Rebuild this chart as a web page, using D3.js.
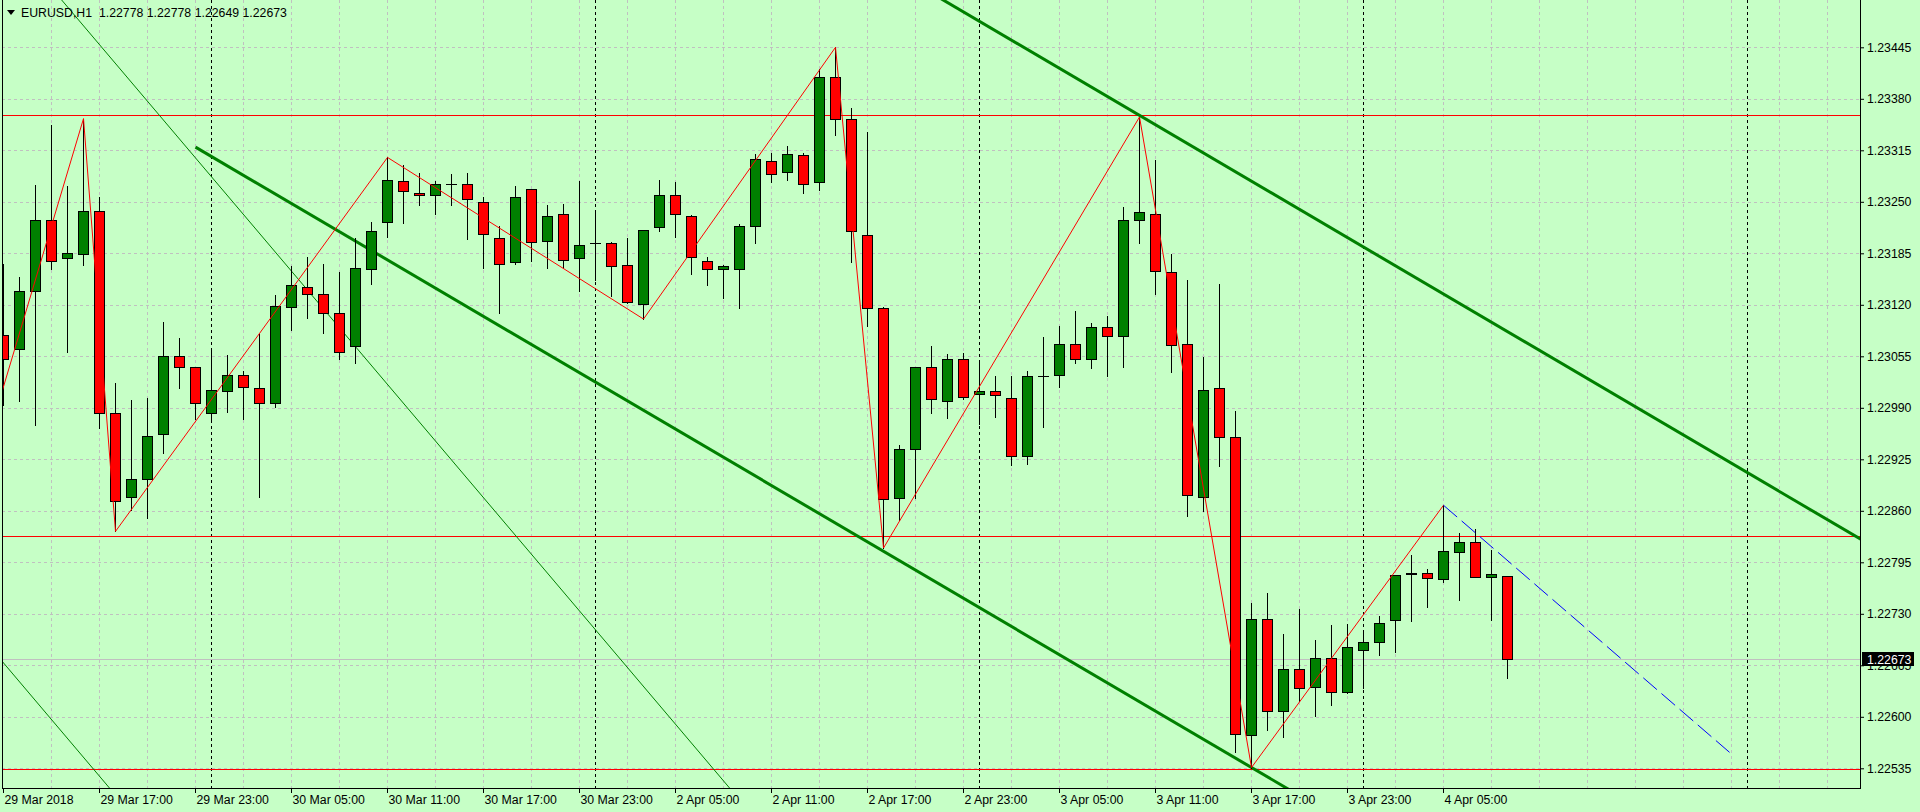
<!DOCTYPE html>
<html>
<head>
<meta charset="utf-8">
<script src="https://cdn.jsdelivr.net/npm/d3@7"></script>
<style>
  html, body { margin: 0; padding: 0; background: #c6ffc6; overflow: hidden; }
  svg { display: block; }
</style>
</head>
<body>
<svg id="chart" width="1920" height="812"></svg>
<script>
// EURUSD H1 candles, 29 Mar 11:00 .. 4 Apr 09:00 (one entry per bar)
const barOpen = [
  1.23082, 1.23064, 1.23137, 1.23227, 1.23179, 1.23184, 1.23239, 1.22983, 1.22877, 1.22900,
  1.22957, 1.23056, 1.23041, 1.22983, 1.23011, 1.23032, 1.23015, 1.22996, 1.23117, 1.23142,
  1.23133, 1.23110, 1.23068, 1.23165, 1.23224, 1.23276, 1.23261, 1.23259, 1.23272, 1.23272,
  1.23250, 1.23204, 1.23174, 1.23266, 1.23201, 1.23235, 1.23179, 1.23198, 1.23198, 1.23170,
  1.23121, 1.23218, 1.23259, 1.23232, 1.23175, 1.23165, 1.23165, 1.23220, 1.23302, 1.23287,
  1.23309, 1.23275, 1.23408, 1.23354, 1.23208, 1.23116, 1.22876, 1.22938, 1.23041, 1.22999,
  1.23052, 1.23008, 1.23011, 1.23003, 1.22929, 1.23030, 1.23031, 1.23071, 1.23052, 1.23092,
  1.23081, 1.23227, 1.23235, 1.23162, 1.23070, 1.22878, 1.23015, 1.22953, 1.22577, 1.22724,
  1.22607, 1.22660, 1.22637, 1.22674, 1.22631, 1.22684, 1.22695, 1.22722, 1.22780, 1.22782,
  1.22774, 1.22808, 1.22820, 1.22777, 1.22778
];
const barHigh = [
  1.23172, 1.23155, 1.23271, 1.23347, 1.23270, 1.23355, 1.23256, 1.23021, 1.23000, 1.23002,
  1.23098, 1.23078, 1.23042, 1.23063, 1.23057, 1.23036, 1.23083, 1.23132, 1.23169, 1.23180,
  1.23171, 1.23161, 1.23204, 1.23224, 1.23306, 1.23296, 1.23286, 1.23276, 1.23285, 1.23286,
  1.23256, 1.23219, 1.23270, 1.23266, 1.23246, 1.23247, 1.23276, 1.23239, 1.23199, 1.23204,
  1.23215, 1.23277, 1.23275, 1.23233, 1.23180, 1.23170, 1.23222, 1.23310, 1.23312, 1.23320,
  1.23311, 1.23417, 1.23445, 1.23369, 1.23338, 1.23117, 1.22943, 1.23042, 1.23068, 1.23058,
  1.23059, 1.23049, 1.23030, 1.23030, 1.23037, 1.23079, 1.23093, 1.23112, 1.23097, 1.23106,
  1.23244, 1.23357, 1.23303, 1.23184, 1.23151, 1.23054, 1.23146, 1.22986, 1.22744, 1.22756,
  1.22705, 1.22736, 1.22697, 1.22716, 1.22717, 1.22707, 1.22727, 1.22779, 1.22804, 1.22787,
  1.22867, 1.22832, 1.22837, 1.22811, 1.22778
];
const barLow = [
  1.22993, 1.22998, 1.22968, 1.23165, 1.23061, 1.23170, 1.22965, 1.22834, 1.22861, 1.22851,
  1.22933, 1.23015, 1.22976, 1.22976, 1.22985, 1.22976, 1.22878, 1.22991, 1.23088, 1.23103,
  1.23084, 1.23051, 1.23046, 1.23146, 1.23206, 1.23223, 1.23246, 1.23235, 1.23246, 1.23203,
  1.23166, 1.23110, 1.23171, 1.23175, 1.23166, 1.23166, 1.23138, 1.23151, 1.23131, 1.23122,
  1.23102, 1.23213, 1.23205, 1.23159, 1.23145, 1.23129, 1.23116, 1.23198, 1.23275, 1.23278,
  1.23261, 1.23265, 1.23334, 1.23174, 1.23093, 1.22813, 1.22849, 1.22876, 1.22983, 1.22977,
  1.23001, 1.22970, 1.22978, 1.22918, 1.22919, 1.22966, 1.23016, 1.23046, 1.23040, 1.23030,
  1.23041, 1.23198, 1.23134, 1.23035, 1.22853, 1.22860, 1.22916, 1.22556, 1.22536, 1.22583,
  1.22574, 1.22620, 1.22601, 1.22615, 1.22630, 1.22636, 1.22678, 1.22682, 1.22721, 1.22738,
  1.22770, 1.22747, 1.22777, 1.22722, 1.22649
];
const barClose = [
  1.23052, 1.23137, 1.23227, 1.23175, 1.23185, 1.23238, 1.22983, 1.22872, 1.22900, 1.22955,
  1.23055, 1.23041, 1.22996, 1.23013, 1.23032, 1.23016, 1.22996, 1.23118, 1.23145, 1.23134,
  1.23110, 1.23060, 1.23166, 1.23213, 1.23277, 1.23264, 1.23258, 1.23272, 1.23272, 1.23253,
  1.23209, 1.23172, 1.23256, 1.23199, 1.23232, 1.23177, 1.23195, 1.23198, 1.23169, 1.23123,
  1.23214, 1.23259, 1.23235, 1.23180, 1.23165, 1.23169, 1.23220, 1.23304, 1.23285, 1.23310,
  1.23273, 1.23408, 1.23354, 1.23213, 1.23116, 1.22875, 1.22938, 1.23041, 1.23001, 1.23052,
  1.23004, 1.23011, 1.23006, 1.22929, 1.23030, 1.23030, 1.23070, 1.23051, 1.23092, 1.23080,
  1.23227, 1.23237, 1.23163, 1.23069, 1.22880, 1.23013, 1.22953, 1.22578, 1.22723, 1.22607,
  1.22660, 1.22636, 1.22674, 1.22631, 1.22688, 1.22695, 1.22718, 1.22779, 1.22782, 1.22775,
  1.22809, 1.22820, 1.22777, 1.22780, 1.22673
];

// time axis labels (bar index -> text), every 6 bars
const timeTickBars = [0, 6, 12, 18, 24, 30, 36, 42, 48, 54, 60, 66, 72, 78, 84, 90];
const timeTickLabels = [
  "29 Mar 2018", "29 Mar 17:00", "29 Mar 23:00", "30 Mar 05:00", "30 Mar 11:00",
  "30 Mar 17:00", "30 Mar 23:00", "2 Apr 05:00", "2 Apr 11:00", "2 Apr 17:00",
  "2 Apr 23:00", "3 Apr 05:00", "3 Apr 11:00", "3 Apr 17:00", "3 Apr 23:00", "4 Apr 05:00"
];
// first bar of each trading day (period separators)
const dayStartBars = [13, 37, 61, 85, 109];

const priceTicks = [
  1.22535, 1.22600, 1.22665, 1.22730, 1.22795, 1.22860, 1.22925, 1.22990,
  1.23055, 1.23120, 1.23185, 1.23250, 1.23315, 1.23380, 1.23445
];

// zigzag swing points [bar, price]
const zigzag = [
  [-1, 1.22949], [5, 1.23355], [7, 1.22834], [24, 1.23306], [40, 1.23102],
  [52, 1.23445], [55, 1.22813], [71, 1.23357], [78, 1.22536], [90, 1.22867]
];
const forecast = [[90, 1.22867], [108, 1.22553]];

// horizontal levels
const levels = [1.23359, 1.22828, 1.22534];

// trend lines: two anchor points [bar, price]
const channelLow = [[12, 1.23319], [78, 1.22536]];
const channelHigh = [[40, 1.23727], [116, 1.22825]];
const thinLineA = [[4, 1.23496], [44, 1.22543]];
const thinLineB = [[0, 1.22668], [6, 1.22525]];

const bid = 1.22673;
const header = "EURUSD,H1  1.22778 1.22778 1.22649 1.22673";

// ---------------------------------------------------------------
const svg = d3.select("#chart");
const W = 1920, H = 812;
const plot = { left: 2, right: 1860, top: 0, bottom: 788 };

const x = d3.scaleLinear().domain([0, 94]).range([3, 3 + 94 * 16]);
const y = d3.scaleLinear().domain([1.22535, 1.23445]).range([768.3, 47.3]);

const FONT = "'Liberation Sans', Arial, sans-serif";
const bgColor = "#c6ffc6";
const gridColor = "#c0c0c0";
const bull = "#008000", bear = "#ff0000";

svg.append("rect").attr("width", W).attr("height", H).attr("fill", bgColor);

svg.append("defs").append("clipPath").attr("id", "plotClip")
  .append("rect")
  .attr("x", plot.left + 1).attr("y", plot.top)
  .attr("width", plot.right - plot.left - 1)
  .attr("height", plot.bottom - plot.top);

const g = svg.append("g").attr("clip-path", "url(#plotClip)");

// Grid
const gridBars = d3.range(3, 116, 3);
g.append("g").selectAll("line")
  .data(gridBars)
  .join("line")
  .attr("x1", d => x(d) + 0.5).attr("x2", d => x(d) + 0.5)
  .attr("y1", plot.top).attr("y2", plot.bottom)
  .attr("stroke", gridColor).attr("stroke-dasharray", "3,3");

g.append("g").selectAll("line")
  .data(priceTicks)
  .join("line")
  .attr("x1", plot.left).attr("x2", plot.right)
  .attr("y1", d => Math.round(y(d)) + 0.5).attr("y2", d => Math.round(y(d)) + 0.5)
  .attr("stroke", gridColor).attr("stroke-dasharray", "3,3");

// Period separators
g.append("g").selectAll("line")
  .data(dayStartBars)
  .join("line")
  .attr("x1", d => x(d) + 0.5).attr("x2", d => x(d) + 0.5)
  .attr("y1", plot.top).attr("y2", plot.bottom)
  .attr("stroke", "#000").attr("stroke-dasharray", "3,3");

// Bid line
g.append("line")
  .attr("x1", plot.left).attr("x2", plot.right)
  .attr("y1", Math.round(y(bid)) + 0.5).attr("y2", Math.round(y(bid)) + 0.5)
  .attr("stroke", gridColor);

// Horizontal levels
g.append("g").selectAll("line")
  .data(levels)
  .join("line")
  .attr("x1", plot.left).attr("x2", plot.right)
  .attr("y1", d => Math.round(y(d)) + 0.5).attr("y2", d => Math.round(y(d)) + 0.5)
  .attr("stroke", "#ff0000");

// Trend lines, extended through the whole plot (clip does the rest)
function extend(pts, fromBar, toBar) {
  const [[b1, p1], [b2, p2]] = pts;
  const slope = (p2 - p1) / (b2 - b1);
  return [fromBar, toBar].map(b => [x(b) + 0.5, y(p1 + slope * (b - b1))]);
}
const lineGen = d3.line();

g.append("path")
  .attr("d", lineGen(extend(channelLow, channelLow[0][0], 130)))
  .attr("fill", "none").attr("stroke", "#008000").attr("stroke-width", 3);
g.append("path")
  .attr("d", lineGen(extend(channelHigh, 0, 130)))
  .attr("fill", "none").attr("stroke", "#008000").attr("stroke-width", 3);
[thinLineA, thinLineB].forEach(pts => {
  g.append("path")
    .attr("d", lineGen(extend(pts, -10, 60)))
    .attr("fill", "none").attr("stroke", "#008000").attr("stroke-width", 1);
});

// Candles
const bars = d3.range(barOpen.length).map(i => ({
  i, o: barOpen[i], h: barHigh[i], l: barLow[i], c: barClose[i]
}));

const candles = g.append("g").attr("shape-rendering", "crispEdges");

candles.selectAll("line.wick")
  .data(bars)
  .join("line")
  .attr("class", "wick")
  .attr("x1", d => x(d.i) + 0.5).attr("x2", d => x(d.i) + 0.5)
  .attr("y1", d => Math.round(y(d.h))).attr("y2", d => Math.round(y(d.l)) + 1)
  .attr("stroke", "#000");

const bodyTop = d => Math.round(y(Math.max(d.o, d.c))) + 0.5;
const bodyBot = d => Math.round(y(Math.min(d.o, d.c))) + 0.5;

candles.selectAll("rect.body")
  .data(bars.filter(d => bodyBot(d) - bodyTop(d) >= 1))
  .join("rect")
  .attr("class", "body")
  .attr("x", d => x(d.i) - 4.5)
  .attr("width", 10)
  .attr("y", bodyTop)
  .attr("height", d => bodyBot(d) - bodyTop(d))
  .attr("fill", d => d.c >= d.o ? bull : bear)
  .attr("stroke", "#000");

candles.selectAll("line.doji")
  .data(bars.filter(d => bodyBot(d) - bodyTop(d) < 1))
  .join("line")
  .attr("class", "doji")
  .attr("x1", d => x(d.i) - 5).attr("x2", d => x(d.i) + 6)
  .attr("y1", bodyTop).attr("y2", bodyTop)
  .attr("stroke", "#000");

// Zigzag and forecast line
g.append("path")
  .attr("d", d3.line().x(d => x(d[0]) + 0.5).y(d => y(d[1]))(zigzag))
  .attr("fill", "none").attr("stroke", "#ff0000").attr("stroke-width", 1);

g.append("path")
  .attr("d", d3.line().x(d => x(d[0]) + 0.5).y(d => y(d[1]))(forecast))
  .attr("fill", "none").attr("stroke", "#0000ff").attr("stroke-width", 1)
  .attr("stroke-dasharray", "18,6");

// Frame
const frame = svg.append("g").attr("stroke", "#000").attr("shape-rendering", "crispEdges");
frame.append("line").attr("x1", plot.left + 0.5).attr("x2", plot.left + 0.5)
  .attr("y1", plot.top).attr("y2", plot.bottom + 1);
frame.append("line").attr("x1", plot.right + 0.5).attr("x2", plot.right + 0.5)
  .attr("y1", plot.top).attr("y2", plot.bottom + 1);
frame.append("line").attr("x1", plot.left).attr("x2", plot.right + 1)
  .attr("y1", plot.bottom + 0.5).attr("y2", plot.bottom + 0.5);

// Axes
const yAxis = svg.append("g")
  .attr("transform", `translate(${plot.right},0)`)
  .call(d3.axisRight(y).tickValues(priceTicks).tickSize(4).tickPadding(3)
    .tickFormat(d3.format(".5f")));
yAxis.select(".domain").remove();

const xAxis = svg.append("g")
  .attr("transform", `translate(0,${plot.bottom})`)
  .call(d3.axisBottom(x).tickValues(timeTickBars).tickSize(5).tickPadding(2)
    .tickFormat((d, i) => timeTickLabels[i]));
xAxis.select(".domain").remove();
xAxis.selectAll("text").attr("text-anchor", "start").attr("x", 1);

[yAxis, xAxis].forEach(ax => {
  ax.attr("font-family", FONT).attr("font-size", 12.3);
  ax.selectAll("line").attr("stroke", "#000");
  ax.selectAll("text").attr("fill", "#000");
});

// Current price box
const by = Math.round(y(bid));
svg.append("rect")
  .attr("x", 1862).attr("y", by - 7)
  .attr("width", 52).attr("height", 14)
  .attr("fill", "#000");
svg.append("text")
  .attr("x", 1867).attr("y", by + 4.5)
  .attr("font-family", FONT).attr("font-size", 12.3)
  .attr("fill", "#fff")
  .text(d3.format(".5f")(bid));

// Header
svg.append("path")
  .attr("d", "M7,10 L15,10 L11,15 Z")
  .attr("fill", "#000");
svg.append("text")
  .attr("x", 21).attr("y", 17)
  .attr("font-family", FONT).attr("font-size", 12.3)
  .attr("fill", "#000")
  .attr("xml:space", "preserve")
  .style("white-space", "pre")
  .text(header);
</script>
</body>
</html>
